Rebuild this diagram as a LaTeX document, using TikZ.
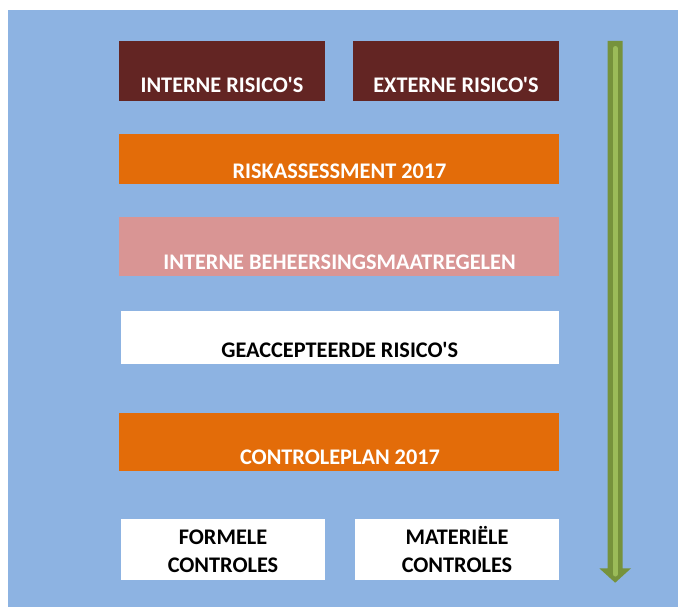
\documentclass[tikz,border=0pt]{standalone}
\usepackage{fontspec}
\setmainfont{Carlito}[Ligatures=TeXOff]
\definecolor{bgblue}{HTML}{8DB3E2}
\definecolor{darkred}{HTML}{632523}
\definecolor{orangebox}{HTML}{E36C09}
\definecolor{pinkbox}{HTML}{D99594}
\definecolor{darkgreen}{HTML}{76923C}
\definecolor{lightgreen}{HTML}{9BBB59}
\begin{document}
\begin{tikzpicture}[x=1pt,y=-1pt,
  box/.style={draw=none, inner sep=0pt, outer sep=0pt, anchor=north west},
  lbl/.style={font=\fontsize{22.3}{26}\selectfont\bfseries, inner sep=0pt, anchor=base},
]
\useasboundingbox (0,0) rectangle (679,607);
\fill[bgblue] (8,10) rectangle (678,607);

% boxes
\node[box, fill=darkred, minimum width=206pt, minimum height=60pt] (intern) at (119,41) {};
\node[box, fill=darkred, minimum width=206pt, minimum height=60pt] (extern) at (353,41) {};
\node[box, fill=orangebox, minimum width=440pt, minimum height=50pt] (risk) at (119,134) {};
\node[box, fill=pinkbox, minimum width=440pt, minimum height=59pt] (ibm) at (119,217) {};
\node[box, fill=white, minimum width=438pt, minimum height=53pt] (geacc) at (121,311) {};
\node[box, fill=orangebox, minimum width=440pt, minimum height=58pt] (plan) at (119,413) {};
\node[box, fill=white, minimum width=204pt, minimum height=61pt] (formeel) at (121,519) {};
\node[box, fill=white, minimum width=204pt, minimum height=61pt] (materieel) at (355,519) {};

% labels
\node[lbl, white] (tintern) at (222,92.3) {INTERNE RISICO'S};
\node[lbl, white] (textern) at (456,92.3) {EXTERNE RISICO'S};
\node[lbl, white] (trisk) at (339.5,178.3) {RISKASSESSMENT 2017};
\node[lbl, white] (tibm) at (339.5,269) {INTERNE BEHEERSINGSMAATREGELEN};
\node[lbl, black] (tgeacc) at (339.7,357.7) {GEACCEPTEERDE RISICO'S};
\node[lbl, white] (tplan) at (340,464.7) {CONTROLEPLAN 2017};
\node[lbl, black] (tform1) at (223,544.3) {FORMELE};
\node[lbl, black] (tform2) at (223,572.3) {CONTROLES};
\node[lbl, black] (tmat1) at (457,544.3) {MATERIËLE};
\node[lbl, black] (tmat2) at (457,572.3) {CONTROLES};

% arrow
\fill[darkgreen] (607.7,41) -- (622.7,41) -- (622.7,568.3) -- (631,568.3)
  -- (615.2,582.7) -- (599.3,568.3) -- (607.7,568.3) -- cycle;
\draw[lightgreen, line width=5pt, line cap=round] (615.2,48.5) -- (615.2,574);
\end{tikzpicture}
\end{document}
